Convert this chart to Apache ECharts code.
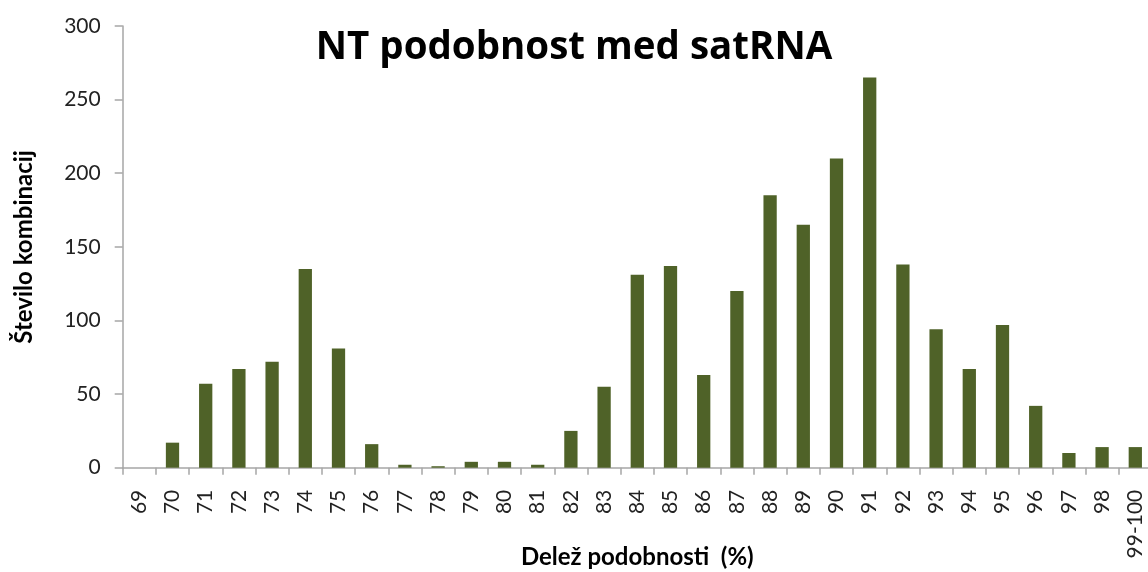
<!DOCTYPE html>
<html>
<head>
<meta charset="utf-8">
<title>NT podobnost med satRNA</title>
<script src="https://cdn.jsdelivr.net/npm/echarts@6/dist/echarts.min.js"></script>
<style>
  html, body { margin: 0; padding: 0; background: #ffffff; }
  #chart { width: 1148px; height: 572px; }
</style>
</head>
<body>
<div id="chart"></div>
<script>
// Similarity bins (%) and number of sequence pairs in each bin
const categories = ['69', '70', '71', '72', '73', '74', '75', '76', '77', '78',
  '79', '80', '81', '82', '83', '84', '85', '86', '87', '88',
  '89', '90', '91', '92', '93', '94', '95', '96', '97', '98', '99-100'];
const counts = [0, 17, 57, 67, 72, 135, 81, 16, 2, 1,
  4, 4, 2, 25, 55, 131, 137, 63, 120, 185,
  165, 210, 265, 138, 94, 67, 97, 42, 10, 14, 14];
const yTicks = { min: 0, max: 300, interval: 50 };

const FONT = 'Lato, "Open Sans", "Liberation Sans", sans-serif';
const TITLE_FONT = '"Open Sans", Lato, sans-serif';
const axisGray = '#a6a6a6';

const chart = echarts.init(document.getElementById('chart'), null, { renderer: 'canvas' });
chart.setOption({
  animation: false,
  backgroundColor: '#ffffff',
  title: {
    text: 'NT podobnost med satRNA',
    left: 'center',
    top: 24,
    textStyle: { fontFamily: TITLE_FONT, fontWeight: 'bold', fontSize: 38.5, color: '#000000' }
  },
  grid: { left: 122.7, right: -3.9, top: 26, bottom: 104.3, outerBoundsMode: 'none' },
  xAxis: {
    type: 'category',
    data: categories,
    name: 'Delež podobnosti  (%)',
    nameLocation: 'middle',
    nameGap: 78,
    nameMoveOverlap: false,
    nameTextStyle: { fontFamily: FONT, fontWeight: 'bold', fontSize: 24, color: '#000' },
    axisLine: { lineStyle: { color: axisGray, width: 1.5 } },
    axisTick: { show: true, length: 7, lineStyle: { color: axisGray, width: 1.5 } },
    axisLabel: { rotate: 90, margin: 22, fontFamily: FONT, fontSize: 21, color: '#222', interval: 0 },
    splitLine: { show: false }
  },
  yAxis: {
    type: 'value',
    min: yTicks.min,
    max: yTicks.max,
    interval: yTicks.interval,
    name: 'Število kombinacij',
    nameLocation: 'middle',
    nameGap: 86,
    nameMoveOverlap: false,
    nameTextStyle: { fontFamily: FONT, fontWeight: 'bold', fontSize: 24, color: '#000' },
    axisLine: { show: true, lineStyle: { color: axisGray, width: 1.5 } },
    axisTick: { show: true, length: 8, lineStyle: { color: axisGray, width: 1.5 } },
    axisLabel: { margin: 22, fontFamily: FONT, fontSize: 21, color: '#222' },
    splitLine: { show: false }
  },
  series: [{
    type: 'bar',
    data: counts,
    barWidth: '40%',
    itemStyle: { color: '#4f6228' }
  }]
});
</script>
</body>
</html>
